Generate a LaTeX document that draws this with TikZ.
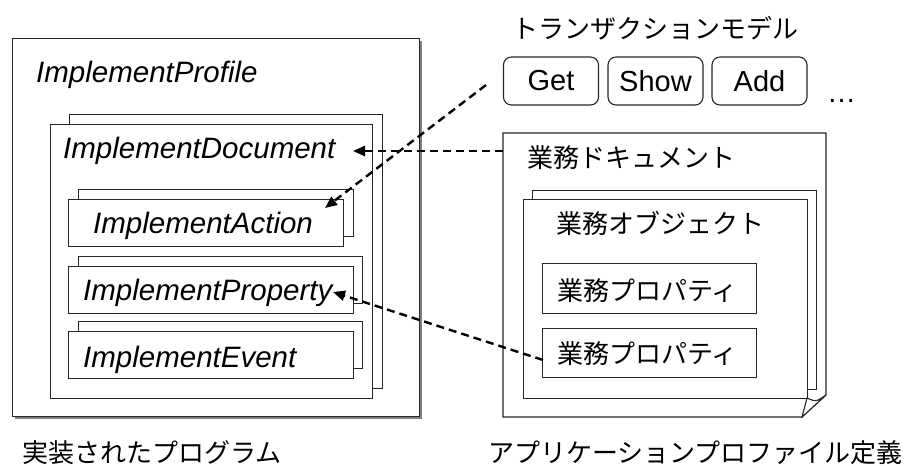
\documentclass[tikz,border=0pt]{standalone}
\usepackage{fontspec}
\setmainfont{Liberation Sans}
\newfontfamily\jp{Noto Sans CJK JP}
\usetikzlibrary{arrows.meta}
\begin{document}
\begin{tikzpicture}[x=1pt,y=-1pt,
  bx/.style={draw=black!85,line width=1.1pt,fill=white,inner sep=0pt,anchor=north west},
  btn/.style={draw=black!85,line width=1.1pt,fill=white,inner sep=0pt,rounded corners=8pt,minimum width=95pt,minimum height=48pt,font=\fontsize{29}{30}\selectfont},
  lat/.style={font=\fontsize{29.5}{30}\selectfont\itshape,inner sep=0pt,anchor=base west},
  jpt/.style={font=\jp\fontsize{26}{28}\selectfont,inner sep=0pt,anchor=base west},
  arr/.style={line width=2.4pt,dash pattern=on 8pt off 5pt,-{Triangle[length=12pt,width=10pt]}},
]
\useasboundingbox (0,0) rectangle (906,466);
% left: implemented program
\fill[black!50] (15,41) rectangle (422,419);
\node[bx,minimum width=407pt,minimum height=378pt] (prof) at (12,38) {};
\node[lat] (proft) at (36,82) {ImplementProfile};
\node[bx,minimum width=313pt,minimum height=274pt] (docb) at (69,114) {};
\node[bx,minimum width=322pt,minimum height=274pt] (doc) at (50,124) {};
\node[lat] (doct) at (63,158) {ImplementDocument};
\node[bx,minimum width=275pt,minimum height=47pt] (actb) at (78,189) {};
\node[bx,minimum width=275pt,minimum height=47pt] (act) at (68,199) {};
\node[lat] (actt) at (93,233) {ImplementAction};
\node[bx,minimum width=284pt,minimum height=47pt] (propb) at (78,256) {};
\node[bx,minimum width=285pt,minimum height=47pt] (prop) at (68,266) {};
\node[lat] (propt) at (83,300) {ImplementProperty};
\node[bx,minimum width=284pt,minimum height=47pt] (evb) at (78,321) {};
\node[bx,minimum width=285pt,minimum height=47pt] (ev) at (68,331) {};
\node[lat] (evt) at (83,367) {ImplementEvent};
\node[jpt] (lefttitle) at (22,462) {実装されたプログラム};
% right: transaction model
\node[jpt] (tmt) at (512,38) {トランザクションモデル};
\node[btn] (get) at (551,81) {Get};
\node[btn] (show) at (655.5,81) {Show};
\node[btn] (add) at (759.5,81) {Add};
\node[font=\fontsize{29}{30}\selectfont,inner sep=0pt,anchor=base west] (dots) at (827,102) {…};
% right: application profile
\draw[draw=black!85,line width=1.1pt,fill=white] (503,133) -- (826,133) -- (826,395) -- (802,417) -- (503,417) -- cycle;
\coordinate (bdocw) at (503,151);
\node[jpt] (bdoct) at (527,167) {業務ドキュメント};
\node[bx,minimum width=284pt,minimum height=199pt] (objb) at (532,190) {};
\node[bx,minimum width=284pt,minimum height=199pt] (obj) at (523,199) {};
\node[jpt] (objt) at (556,233) {業務オブジェクト};
\draw[draw=black!85,line width=1.1pt,fill=white] (802,417) -- (807,398) .. controls (816,402) .. (826,395) -- cycle;
\node[bx,minimum width=214pt,minimum height=50pt] (bp1) at (542,263) {};
\node[jpt] (bp1t) at (557,300) {業務プロパティ};
\node[bx,minimum width=214pt,minimum height=49pt] (bp2) at (542,328) {};
\node[jpt] (bp2t) at (557,363) {業務プロパティ};
\node[jpt] (righttitle) at (488,462) {アプリケーションプロファイル定義};
% connectors
\coordinate (tipdoc) at (353,151);
\coordinate (getsrc) at (486,85);
\coordinate (tipact) at (325,208);
\coordinate (bp2src) at (543,360);
\coordinate (tipprop) at (333,292);
\draw[arr] (bdocw) -- (tipdoc);
\draw[arr] (getsrc) -- (tipact);
\draw[arr] (bp2src) -- (tipprop);
\end{tikzpicture}
\end{document}
